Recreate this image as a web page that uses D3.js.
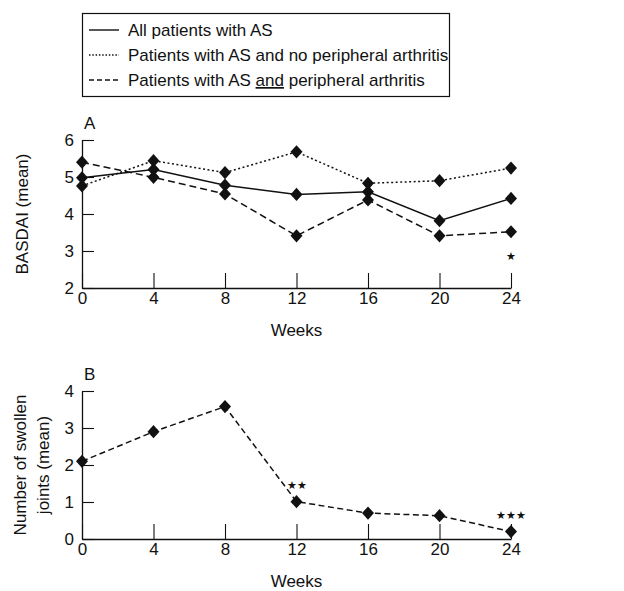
<!DOCTYPE html>
<html>
<head>
<meta charset="utf-8">
<script src="https://cdn.jsdelivr.net/npm/d3@7"></script>
<style>
  body { margin: 0; background: #fff; }
  text { font-family: "Liberation Sans", Arial, sans-serif; fill: #111; }
</style>
</head>
<body>
<svg id="chart" width="624" height="591"></svg>
<script>
// data
const weeks = [0, 4, 8, 12, 16, 20, 24];
const allPatients = [4.98, 5.2, 4.78, 4.53, 4.6, 3.82, 4.42];
const noPeripheral = [4.76, 5.44, 5.12, 5.68, 4.83, 4.9, 5.24];
const withPeripheral = [5.4, 4.99, 4.54, 3.41, 4.38, 3.41, 3.52];
const swollenJoints = [2.1, 2.9, 3.58, 1.01, 0.7, 0.63, 0.2];
const basdaiTicks = [2, 3, 4, 5, 6];
const jointTicks = [0, 1, 2, 3, 4];
const legendLabels = [
  "All patients with AS",
  "Patients with AS and no peripheral arthritis",
  "Patients with AS and peripheral arthritis"
];

const svg = d3.select("#chart");
const ink = "#111";

const x = d3.scaleLinear().domain([0, 24]).range([82, 511]);
const yA = d3.scaleLinear().domain([2, 6]).range([288, 140]);
const yB = d3.scaleLinear().domain([0, 4]).range([539, 391]);

const dashes = [null, "2,2.5", "7,4"];

// legend
const lg = svg.append("g");
lg.append("rect")
  .attr("x", 82.5).attr("y", 13.5).attr("width", 367).attr("height", 83)
  .attr("fill", "none").attr("stroke", ink).attr("stroke-width", 1.2);

legendLabels.forEach((lab, i) => {
  const yy = 30 + i * 25;
  lg.append("line")
    .attr("x1", 89).attr("x2", 119).attr("y1", yy).attr("y2", yy)
    .attr("stroke", ink).attr("stroke-width", 1.4)
    .attr("stroke-dasharray", i === 1 ? "1.5,1.8" : i === 2 ? "5,3" : null);
  const t = lg.append("text")
    .attr("x", 128).attr("y", yy + 6)
    .style("font-size", "17px");
  if (i === 2) {
    t.append("tspan").text("Patients with AS ");
    t.append("tspan").style("text-decoration", "underline").text("and");
    t.append("tspan").text(" peripheral arthritis");
  } else {
    t.text(lab);
  }
});

function drawAxes(y, ticks, yTitle, letter) {
  const g = svg.append("g");
  const yBase = y.range()[0];

  // x axis, ticks point up
  const xa = g.append("g")
    .attr("transform", `translate(0,${yBase})`)
    .call(d3.axisBottom(x).tickValues(weeks).tickSizeInner(-15).tickSizeOuter(0).tickPadding(4));
  xa.selectAll("text").style("font-size", "17px");

  // y axis, ticks point right
  const ya = g.append("g")
    .attr("transform", `translate(${x(0)},0)`)
    .call(d3.axisLeft(y).tickValues(ticks).tickFormat(d3.format("d"))
      .tickSizeInner(-12).tickSizeOuter(0).tickPadding(8));
  ya.selectAll("text").style("font-size", "17px");

  g.selectAll(".domain").attr("stroke", ink).attr("stroke-width", 1.3);
  g.selectAll(".tick line").attr("stroke", ink).attr("stroke-width", 1.1);

  g.append("text")
    .attr("x", x(12)).attr("y", yBase + 48)
    .attr("text-anchor", "middle").style("font-size", "17px")
    .text("Weeks");

  g.append("text")
    .attr("x", x(0) + 2).attr("y", y.range()[1] - 11)
    .style("font-size", "17px")
    .text(letter);

  const midY = (y.range()[0] + y.range()[1]) / 2;
  const tt = g.append("text")
    .attr("transform", `translate(0,${midY}) rotate(-90)`)
    .attr("text-anchor", "middle").style("font-size", "17px");
  yTitle.forEach((line, i) => {
    tt.append("tspan").attr("x", 0)
      .attr("y", yTitle.length === 1 ? 28 : 26 + i * 23)
      .text(line);
  });
}

drawAxes(yA, basdaiTicks, ["BASDAI (mean)"], "A");
drawAxes(yB, jointTicks, ["Number of swollen", "joints (mean)"], "B");

const diamond = d3.symbol().type(d3.symbolSquare).size(72)();

function drawSeries(values, y, dash) {
  const line = d3.line().x((d, i) => x(weeks[i])).y(d => y(d));
  svg.append("path")
    .datum(values)
    .attr("d", line)
    .attr("fill", "none").attr("stroke", ink).attr("stroke-width", 1.5)
    .attr("stroke-dasharray", dash);
  svg.append("g").selectAll("path")
    .data(values)
    .join("path")
    .attr("d", diamond)
    .attr("transform", (d, i) => `translate(${x(weeks[i])},${y(d)}) scale(1,1.1) rotate(45)`)
    .attr("fill", ink);
}

drawSeries(allPatients, yA, dashes[0]);
drawSeries(noPeripheral, yA, dashes[1]);
drawSeries(withPeripheral, yA, dashes[2]);
drawSeries(swollenJoints, yB, "6,3.5");

// significance marks
svg.append("text").attr("x", x(24)).attr("y", yA(2.77))
  .attr("text-anchor", "middle").style("font-size", "11px").text("★");
svg.append("text").attr("x", x(12)).attr("y", yB(1.35))
  .attr("text-anchor", "middle").style("font-size", "11px").text("★★");
svg.append("text").attr("x", x(24)).attr("y", yB(0.53))
  .attr("text-anchor", "middle").style("font-size", "11px").text("★★★");
</script>
</body>
</html>
